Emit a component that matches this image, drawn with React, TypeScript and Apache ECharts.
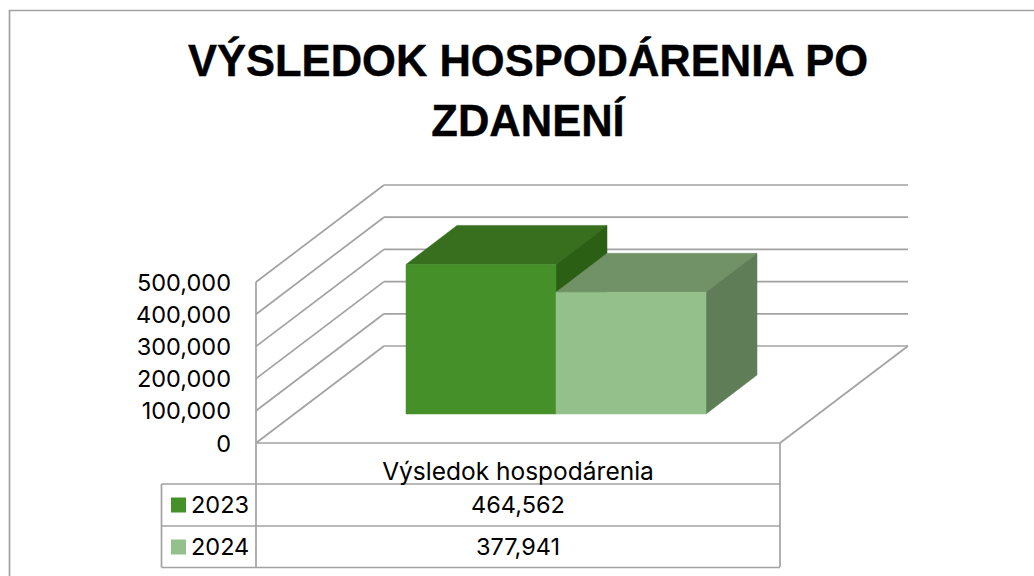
import React, { useEffect, useRef } from "react";
import * as echarts from "echarts";

const titleLines = ["VÝSLEDOK HOSPODÁRENIA PO", "ZDANENÍ"];
const categoryName = "Výsledok hospodárenia";
const seriesNames = ["2023", "2024"];
const seriesValues = [464562, 377941];
const valueLabels = ["464,562", "377,941"];
const tickValues = [0, 100000, 200000, 300000, 400000, 500000];
const frontColors = ["#459029", "#94c18b"];
const topColors = ["#376f1e", "#719166"];
const sideColors = ["#2a5f14", "#5f7e57"];

const FONT = "Inter, 'Noto Sans', sans-serif";
const TITLE_FONT = "'Liberation Sans', Arial, sans-serif";
const GRID = "#a2a2a2";
const LEFT = 256, RIGHT = 780, TOP = 282, BOTTOM = 443;
const DX = 128, DY = -97;
const TEXT_SIZE = 23.5;

function App() {
  const ref = useRef<HTMLDivElement>(null);
  useEffect(() => {
    const chart = echarts.init(ref.current!, undefined, { renderer: "svg" });

    const poly = (points: number[][], fill: string) => ({
      type: "polygon",
      shape: { points },
      style: { fill, stroke: fill, lineWidth: 0.5 },
    });
    const seg = (p: number[], q: number[]) => ({
      type: "line",
      shape: { x1: p[0], y1: p[1], x2: q[0], y2: q[1] },
      style: { stroke: GRID, lineWidth: 1.7, fill: "none" },
      silent: true,
    });

    const option: any = {
      animation: false,
      backgroundColor: "#ffffff",
      grid: { left: LEFT, top: TOP, width: RIGHT - LEFT, height: BOTTOM - TOP },
      xAxis: {
        type: "category",
        data: seriesNames,
        boundaryGap: true,
        axisLine: { show: false },
        axisTick: { show: false },
        axisLabel: { show: false },
      },
      yAxis: {
        type: "value",
        min: 0,
        max: 500000,
        interval: 100000,
        axisLine: { show: false },
        axisTick: { show: false },
        splitLine: { show: false },
        axisLabel: {
          color: "#000000",
          fontFamily: FONT,
          fontSize: TEXT_SIZE,
          margin: 25,
          padding: [2, 0, 0, 0],
          formatter: (v: number) => v.toLocaleString("en-US"),
        },
      },
      series: [
        {
          type: "custom",
          coordinateSystem: "cartesian2d",
          data: tickValues.map((v) => [0, v]),
          z: 1,
          silent: true,
          renderItem: (_p: any, api: any) => {
            const y = api.coord([0, api.value(1)])[1];
            const children: any[] = [
              seg([LEFT, y], [LEFT + DX, y + DY]),
              seg([LEFT + DX, y + DY], [RIGHT + DX, y + DY]),
            ];
            if (api.value(1) === 0) {
              children.push(seg([LEFT, y], [RIGHT, y]));
              children.push(seg([RIGHT, y], [RIGHT + DX, y + DY]));
              children.push(seg([LEFT, y], [LEFT, TOP]));
            }
            return { type: "group", children };
          },
        },
        {
          type: "custom",
          coordinateSystem: "cartesian2d",
          data: seriesValues.map((v, i) => [i, v]),
          z: 3,
          silent: true,
          renderItem: (_p: any, api: any) => {
            const i = api.value(0);
            const value = api.value(1);
            const y1 = api.coord([0, value])[1] - 29;
            const y0 = api.coord([0, 0])[1] - 29;
            const x0 = 406 + i * 150;
            const x1 = x0 + 150;
            const dx = 51, dy = -39;
            return {
              type: "group",
              children: [
                poly([[x0, y1], [x1, y1], [x1 + dx, y1 + dy], [x0 + dx, y1 + dy]], topColors[i]),
                poly([[x1, y0], [x1 + dx, y0 + dy], [x1 + dx, y1 + dy], [x1, y1]], sideColors[i]),
                poly([[x0, y0], [x1, y0], [x1, y1], [x0, y1]], frontColors[i]),
              ],
            };
          },
        },
      ],
      graphic: [
        {
          type: "rect",
          shape: { x: 9.5, y: 10.5, width: 1100, height: 600 },
          style: { fill: "none", stroke: GRID, lineWidth: 1.7 },
          silent: true,
        },
        ...titleLines.map((t, i) => ({
          type: "text",
          x: 528,
          y: 61 + i * 60,
          style: {
            text: t,
            fill: "#000000",
            stroke: "#000000",
            lineWidth: 0.4,
            font: `bold 43.5px ${TITLE_FONT}`,
            textAlign: "center",
            textVerticalAlign: "middle",
          },
        })),
        ...[[LEFT, 443, LEFT, 567], [RIGHT, 443, RIGHT, 567], [161.5, 484, RIGHT, 484], [161.5, 526, RIGHT, 526], [161.5, 567.5, RIGHT, 567.5], [161.5, 484, 161.5, 567.5]].map(
          ([x1, y1, x2, y2]) => ({
            type: "line",
            shape: { x1, y1, x2, y2 },
            style: { stroke: GRID, lineWidth: 1.7 },
            silent: true,
          })
        ),
        {
          type: "text",
          x: 518,
          y: 471,
          style: { text: categoryName, fill: "#000", font: `24.5px ${FONT}`, textAlign: "center", textVerticalAlign: "middle" },
        },
        ...seriesNames.flatMap((name, i) => {
          const cy = 504.5 + i * 42;
          return [
            { type: "rect", shape: { x: 171, y: cy - 7, width: 15, height: 15 }, style: { fill: frontColors[i] }, silent: true },
            { type: "text", x: 191, y: cy, style: { text: name, fill: "#000", font: `${TEXT_SIZE}px ${FONT}`, textAlign: "left", textVerticalAlign: "middle" } },
            { type: "text", x: 518, y: cy, style: { text: valueLabels[i], fill: "#000", font: `${TEXT_SIZE}px ${FONT}`, textAlign: "center", textVerticalAlign: "middle" } },
          ];
        }),
      ],
    };
    chart.setOption(option);
    return () => chart.dispose();
  }, []);
  return <div ref={ref} style={{ position: "fixed", left: 0, top: 0, width: 1034, height: 576 }} />;
}

export default App;
